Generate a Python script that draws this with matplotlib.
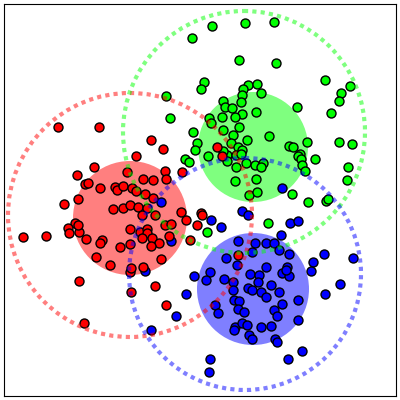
import matplotlib
matplotlib.use("Agg")
import matplotlib.pyplot as plt
from matplotlib.patches import Circle

# point positions (x right, y down)
red_x = [58, 99, 151, 163, 136, 94, 77, 127, 165, 143, 153, 166, 182, 85, 88,
         100, 115, 117, 123, 132, 136, 145, 153, 64, 78, 113, 123, 130, 138, 147,
         142, 155, 181, 201, 202, 186, 197, 165, 171, 130, 140, 147, 147, 142, 152,
         169, 159, 151, 102, 100, 120, 130, 190, 23, 46, 75, 68, 69, 79, 78,
         86, 96, 110, 79, 84, 131, 130, 131, 155, 166, 143, 161, 217, 222, 238]
red_y = [127, 127, 140, 149, 156, 167, 175, 172, 171, 179, 180, 179, 172, 184, 183,
         188, 187, 190, 186, 188, 191, 194, 198, 204, 199, 209, 208, 205, 207, 208,
         215, 215, 212, 213, 215, 220, 225, 225, 224, 229, 232, 229, 233, 238, 238,
         236, 243, 246, 240, 243, 247, 244, 240, 237, 236, 223, 228, 233, 232, 225,
         239, 257, 265, 281, 323, 292, 272, 268, 286, 305, 267, 259, 147, 156, 255]

green_x = [192, 212, 245, 274, 239, 276, 325, 350, 341, 339, 297, 331,
           204, 201, 166, 170, 248, 257, 243, 261, 242, 241, 223, 225, 232, 256,
           242, 235, 222, 209, 211, 239, 223, 193, 233, 247, 269, 231, 238, 197,
           195, 242, 208, 227, 236, 241, 223, 227, 246, 255, 263, 261, 236, 185,
           189, 235, 256, 249, 257, 207, 268,
           289, 293, 307, 339, 352, 300, 298, 301, 315, 302, 305, 348, 347, 292,
           308, 326, 328]
green_y = [38, 26, 23, 22, 60, 63, 80, 86, 93, 101, 107, 113,
           82, 89, 96, 118, 85, 84, 89, 93, 95, 102, 101, 107, 108, 112,
           114, 117, 117, 118, 123, 127, 130, 132, 135, 140, 136, 143, 147, 143,
           150, 150, 156, 155, 155, 154, 151, 161, 163, 165, 163, 167, 167, 159,
           162, 181, 179, 195, 192, 232, 223,
           146, 147, 142, 142, 144, 154, 156, 159, 159, 165, 171, 167, 180, 194,
           202, 201, 199]

blue_x = [161, 171, 145, 151, 176, 186, 194, 211, 221, 242, 248, 282, 290, 298,
          281, 266, 274, 279, 289, 324, 353, 313, 311, 266, 287, 282, 289, 238,
          255, 226, 237, 252, 210, 206, 224, 233, 233, 250, 259, 258, 286, 248,
          252, 261, 266, 271, 279, 298, 282, 215, 218, 234, 239, 238, 244, 274,
          277, 298, 235, 234, 242, 247, 261, 271, 249, 252, 275, 277, 302, 288,
          340, 325, 210, 209]
blue_y = [202, 241, 271, 330, 316, 294, 276, 220, 227, 211, 215, 188, 223, 221,
          235, 243, 243, 250, 254, 254, 258, 262, 271, 267, 267, 273, 276, 241,
          243, 258, 265, 252, 272, 280, 279, 282, 290, 274, 275, 282, 270, 288,
          290, 292, 297, 285, 292, 300, 304, 305, 313, 300, 301, 309, 312, 310,
          316, 320, 327, 330, 323, 325, 327, 326, 335, 339, 339, 342, 351, 359,
          284, 294, 359, 372]

# cluster circles: centre x, centre y, radius
core_circles = [(130, 218, 57), (253, 147, 55), (253, 289, 56)]
outer_circles = [(130, 215, 122), (244, 132, 121), (245, 274, 116)]
colors = ['red', 'lime', 'blue']

fig = plt.figure(figsize=(4, 4), dpi=100)
ax = fig.add_axes([0.01, 0.01, 0.98, 0.98])

for (cx, cy, r), c in zip(core_circles, colors):
    ax.add_patch(Circle((cx, cy), r, color=c, alpha=0.5, lw=0, zorder=1))

for xs, ys, c in [(blue_x, blue_y, 'blue'), (green_x, green_y, 'lime'),
                  (red_x, red_y, 'red')]:
    ax.scatter(xs, ys, s=42, c=c, edgecolors='black', linewidths=1, zorder=2)

for (cx, cy, r), c in zip(outer_circles, colors):
    ax.add_patch(Circle((cx, cy), r, fill=False, ec=c, alpha=0.5, lw=3,
                        linestyle=(0, (1, 1)), zorder=3))

ax.set_xlim(4, 396)
ax.set_ylim(396, 4)
ax.set_xticks([])
ax.set_yticks([])

fig.savefig("out.png", dpi=100)
